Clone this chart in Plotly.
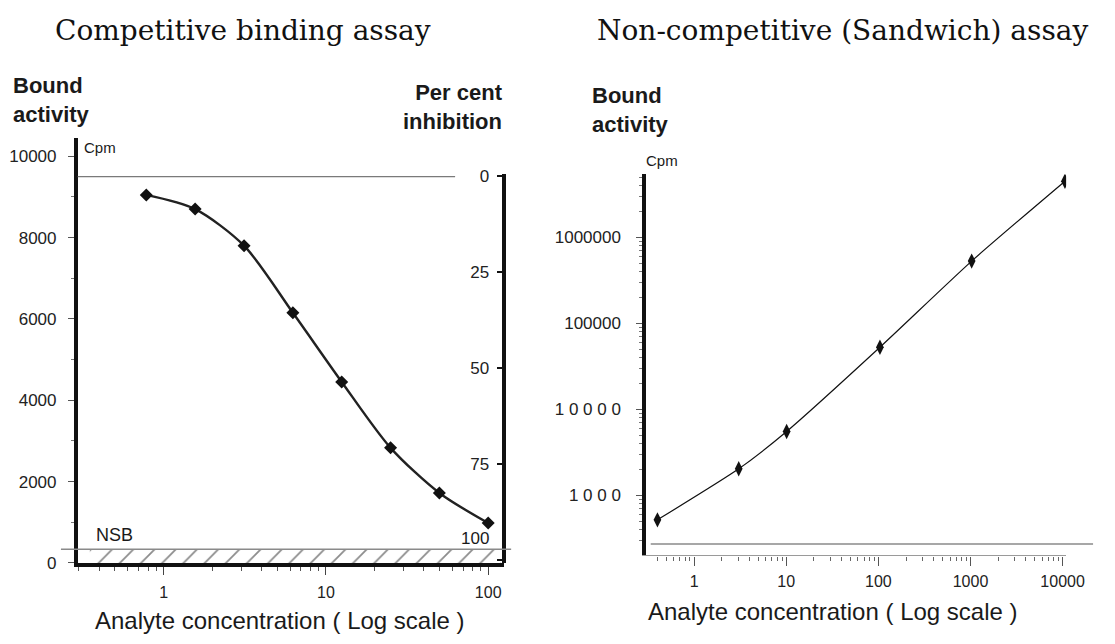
import plotly.graph_objects as go

# ---------------- data ----------------
comp_conc = [0.78, 1.56, 3.125, 6.25, 12.5, 25, 50, 100]
comp_cpm = [9050, 8700, 7800, 6150, 4450, 2830, 1720, 980]
BMAX = 9500          # zero-inhibition bound activity
NSB = 335            # non-specific binding level
bound_ticks = [0, 2000, 4000, 6000, 8000, 10000]
inhib_ticks = [0, 25, 50, 75, 100]
inhib_text = ["0", "25", "50", "75", ""]
comp_xticks = [1, 10, 100]

sand_conc = [0.4, 3.05, 10.1, 104, 1030, 10600]
sand_cpm = [520, 2040, 5550, 53000, 532000, 4520000]
BACKGROUND = 272
sand_yticks = [1000, 10000, 100000, 1000000]
sand_ytext = ["1 0 0 0", "1 0 0 0 0", "100000", "1000000"]
sand_xticks = [1, 10, 100, 1000, 10000]
sand_xtext = ["1", "10", "100", "1000", "10000"]

W, H = 1115, 644
def px(x): return x / W
def py(y): return 1 - y / H

SANS = "Liberation Sans, Arial, sans-serif"
SERIF = "DejaVu Serif, serif"

minor_log_left = [m * 10 ** e for e in (-1, 0, 1) for m in range(2, 10)]
minor_log_right = [m * 10 ** e for e in (-1, 0, 1, 2, 3) for m in range(2, 10)]
minor_y_right = [m * 10 ** e for e in (2, 3, 4, 5, 6) for m in range(2, 10)]

fig = go.Figure()

# hatched NSB region
fig.add_trace(go.Scatter(
    x=[0.35, 120], y=[NSB, NSB], mode="lines", fill="tozeroy",
    line=dict(width=0, color="rgba(0,0,0,0)"),
    fillcolor="rgba(0,0,0,0)",
    fillpattern=dict(shape="/", size=15, solidity=0.12,
                     fgcolor="#1a1a1a", bgcolor="rgba(0,0,0,0)"),
    xaxis="x", yaxis="y", hoverinfo="skip", showlegend=False))

# competitive binding curve
fig.add_trace(go.Scatter(
    x=comp_conc, y=comp_cpm, mode="lines", line_shape="spline",
    line=dict(color="#222222", width=2.4, smoothing=0.8),
    xaxis="x", yaxis="y", showlegend=False))
fig.add_trace(go.Scatter(
    x=comp_conc, y=comp_cpm, mode="markers",
    marker=dict(symbol="diamond", size=10, color="#111111"),
    xaxis="x", yaxis="y", showlegend=False))
# invisible trace to activate the per cent inhibition axis
fig.add_trace(go.Scatter(
    x=[comp_conc[0]], y=[inhib_ticks[0]], mode="markers",
    marker=dict(opacity=0), xaxis="x", yaxis="y2",
    hoverinfo="skip", showlegend=False))

# sandwich curve
fig.add_trace(go.Scatter(
    x=sand_conc, y=sand_cpm, mode="lines", line_shape="spline",
    line=dict(color="#111111", width=1.2, smoothing=0.6),
    xaxis="x3", yaxis="y3", showlegend=False))
fig.add_trace(go.Scatter(
    x=sand_conc, y=sand_cpm, mode="markers",
    marker=dict(symbol="diamond-tall", size=11, color="#111111"),
    xaxis="x3", yaxis="y3", showlegend=False))

fig.update_layout(
    width=W, height=H,
    margin=dict(l=0, r=0, t=0, b=0),
    paper_bgcolor="white", plot_bgcolor="rgba(0,0,0,0)",
    showlegend=False,
    xaxis=dict(
        domain=[px(79), px(513)], anchor="y", type="log",
        range=[-0.531, 2.099], showgrid=False, zeroline=False,
        showline=True, linecolor="#111111", linewidth=3.5,
        ticks="outside", ticklen=8, tickwidth=1, tickcolor="#444444",
        tickvals=comp_xticks, ticktext=[str(v) for v in comp_xticks],
        tickfont=dict(family=SANS, size=16, color="#222222"),
        ticklabelstandoff=4,
        minor=dict(ticks="outside", ticklen=4, tickwidth=1,
                   tickcolor="#555555", tickvals=minor_log_left, showgrid=False),
    ),
    yaxis=dict(
        domain=[py(571), py(135)], anchor="x", range=[0, 10438],
        showgrid=False, zeroline=False,
        showline=True, linecolor="#111111", linewidth=3.5,
        ticks="outside", ticklen=6, tickwidth=1, tickcolor="#555555",
        tickvals=bound_ticks, ticktext=[str(v) for v in bound_ticks],
        tickfont=dict(family=SANS, size=17, color="#222222"),
        ticklabelstandoff=8,
        minor=dict(ticks="outside", ticklen=3, tickwidth=1,
                   tickcolor="#777777", dtick=1000, showgrid=False),
    ),
    yaxis2=dict(
        domain=[py(571), py(172)], anchor="free", position=px(513),
        side="left", range=[100.7, -0.5], showgrid=False, zeroline=False,
        showline=True, linecolor="#111111", linewidth=3.5,
        ticks="outside", ticklen=6, tickwidth=2, tickcolor="#111111",
        tickvals=inhib_ticks, ticktext=inhib_text,
        tickfont=dict(family=SANS, size=17, color="#222222"),
        ticklabelstandoff=4,
    ),
    xaxis3=dict(
        domain=[px(657.3), px(1084.6)], anchor="y3", type="log",
        range=[-0.521, 4.038], showgrid=False, zeroline=False,
        showline=True, linecolor="#9a9a9a", linewidth=1.2,
        ticks="outside", ticklen=9, tickwidth=1, tickcolor="#555555",
        tickvals=sand_xticks, ticktext=sand_xtext,
        tickfont=dict(family=SANS, size=16, color="#222222"),
        ticklabelstandoff=2,
        minor=dict(ticks="outside", ticklen=4, tickwidth=1,
                   tickcolor="#666666", tickvals=minor_log_right, showgrid=False),
    ),
    yaxis3=dict(
        domain=[py(563.3), py(171.7)], anchor="x3", type="log",
        range=[2.302, 6.737], showgrid=False, zeroline=False,
        showline=True, linecolor="#111111", linewidth=3.5,
        ticks="outside", ticklen=6, tickwidth=1, tickcolor="#555555",
        tickvals=sand_yticks, ticktext=sand_ytext,
        tickfont=dict(family=SANS, size=17, color="#222222"),
        ticklabelstandoff=12,
        minor=dict(ticks="outside", ticklen=3, tickwidth=1,
                   tickcolor="#777777", tickvals=minor_y_right, showgrid=False),
    ),
)

# reference lines
fig.add_shape(type="line", xref="paper", yref="y",
              x0=px(79), x1=px(463), y0=BMAX, y1=BMAX,
              line=dict(color="#7a7a7a", width=1.2))
fig.add_shape(type="line", xref="paper", yref="y",
              x0=px(62), x1=px(520), y0=NSB, y1=NSB,
              line=dict(color="#8a8a8a", width=1.6))
fig.add_shape(type="line", xref="paper", yref="y3",
              x0=px(662), x1=px(1112), y0=BACKGROUND, y1=BACKGROUND,
              line=dict(color="#8a8a8a", width=1.6))

def ann(text, x, y, size, family=SANS, xanchor="center", yanchor="middle",
        align="center", color="#1a1a1a", weight=None):
    f = dict(family=family, size=size, color=color)
    if weight:
        f["weight"] = weight
    fig.add_annotation(text=text, x=x, y=y, xref="paper", yref="paper",
                       xanchor=xanchor, yanchor=yanchor, align=align,
                       showarrow=False, font=f)

ann("Competitive binding assay", px(247), py(24), 28, family=SERIF, color="#111111")
ann("Non-competitive (Sandwich) assay", px(857), py(24), 28, family=SERIF, color="#111111")
ann("Bound<br>activity", px(11), py(66), 22, xanchor="left", yanchor="top",
    align="left", weight="bold")
ann("Per cent<br>inhibition", px(514), py(73), 22, xanchor="right",
    yanchor="top", align="right", weight="bold")
ann("Bound<br>activity", px(600), py(76), 22, xanchor="left", yanchor="top",
    align="left", weight="bold")
ann("Cpm", px(83), py(144), 15, xanchor="left")
ann("Cpm", px(673), py(158), 15)
ann("NSB", px(96), py(542), 18, xanchor="left")
ann("100", px(500), py(546), 17, xanchor="right")
ann("Analyte concentration ( Log scale )", px(285), py(630), 24)
ann("Analyte concentration ( Log scale )", px(847), py(621), 24)

fig.write_html(
    "out.html",
    config={"displayModeBar": False},
    post_script="document.body.style.margin='0';"
                "document.body.style.overflow='hidden';",
)
